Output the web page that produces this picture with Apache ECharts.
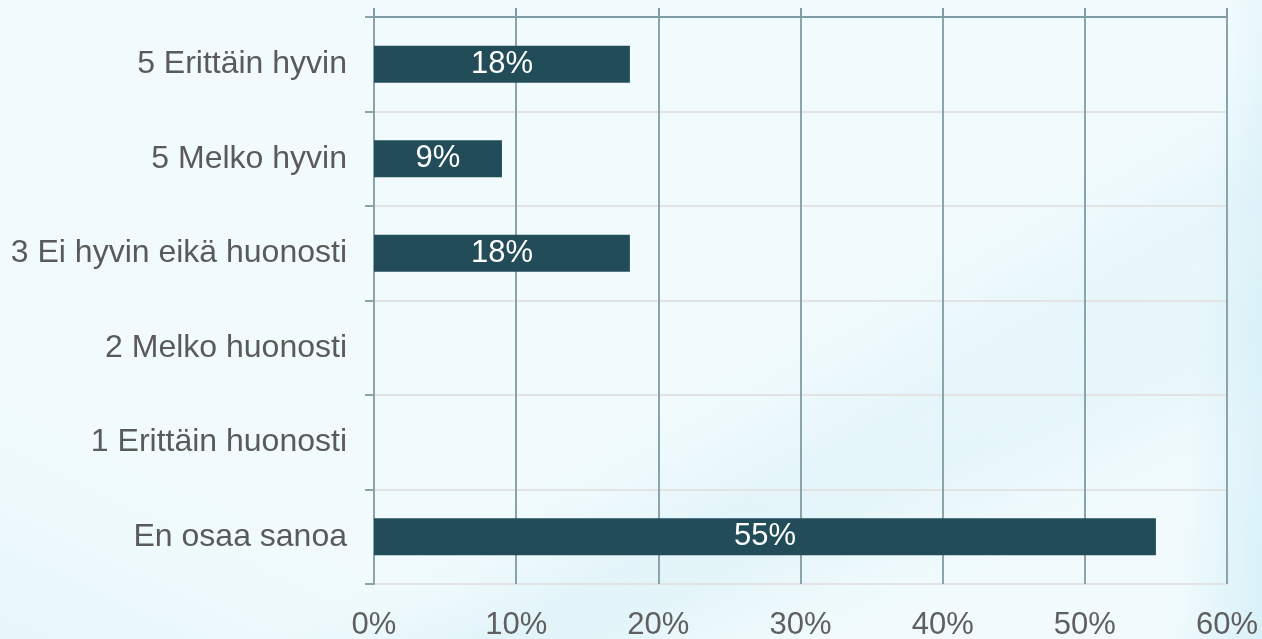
<!DOCTYPE html>
<html>
<head>
<meta charset="utf-8">
<script src="https://cdn.jsdelivr.net/npm/echarts@6/dist/echarts.min.js"></script>
<style>
html,body{margin:0;padding:0;width:1262px;height:639px;overflow:hidden;}
body{
  background:
    linear-gradient(150deg, rgba(255,255,255,0) 58%, rgba(200,232,242,0.25) 68%, rgba(255,255,255,0) 76%),
    linear-gradient(155deg, rgba(255,255,255,0) 66%, rgba(195,230,240,0.22) 74%, rgba(255,255,255,0) 84%),
    linear-gradient(95deg, rgba(255,255,255,0) 93%, rgba(200,234,245,0.6) 100%),
    linear-gradient(25deg, rgba(215,238,245,0.35) 0%, rgba(255,255,255,0) 20%),
    #f1fbfd;
}
#chart{width:1262px;height:639px;}
</style>
</head>
<body>
<div id="chart"></div>
<script>
const categories = ["5 Erittäin hyvin", "5 Melko hyvin", "3 Ei hyvin eikä huonosti", "2 Melko huonosti", "1 Erittäin huonosti", "En osaa sanoa"];
const values = [18, 9, 18, 0, 0, 55];
const tickMin = 0, tickMax = 60, tickStep = 10;

const chart = echarts.init(document.getElementById('chart'), null, {renderer: 'canvas'});
const font = 'Liberation Sans, Arial, sans-serif';
chart.setOption({
  backgroundColor: 'transparent',
  animation: false,
  grid: {left: 374, right: 35, top: 17, bottom: 55, containLabel: false, outerBoundsMode: 'none'},
  xAxis: [
    {
      type: 'value', position: 'bottom', min: tickMin, max: tickMax, interval: tickStep,
      axisLine: {show: false}, axisTick: {show: false},
      axisLabel: {formatter: '{value}%', fontSize: 31, color: '#5f5f5f', fontFamily: font, margin: 26},
      splitLine: {show: true, lineStyle: {color: '#8ba4ac', width: 2}}
    },
    {
      type: 'value', position: 'top', min: tickMin, max: tickMax, interval: tickStep,
      axisLine: {show: true, lineStyle: {color: '#7f9ba4', width: 2}},
      axisTick: {show: true, length: 9, lineStyle: {color: '#7f9ba4', width: 2}},
      axisLabel: {show: false}, splitLine: {show: false}
    }
  ],
  yAxis: {
    type: 'category', data: categories, inverse: true, boundaryGap: true,
    axisLine: {show: true, lineStyle: {color: '#8ba4ac', width: 2}},
    axisTick: {show: true, length: 9, lineStyle: {color: '#8ba4ac', width: 2}},
    axisLabel: {fontSize: 32, color: '#5a5a5a', fontFamily: font, margin: 27},
    splitLine: {show: true, lineStyle: {color: '#e3e3e3', width: 2}}
  },
  series: [{
    type: 'bar', data: values, xAxisIndex: 0, barWidth: 37,
    itemStyle: {color: '#234c59'},
    label: {
      show: true, position: 'inside', color: '#ffffff', fontSize: 31, fontFamily: font,
      formatter: p => p.value > 0 ? p.value + '%' : ''
    }
  }]
});
</script>
</body>
</html>
